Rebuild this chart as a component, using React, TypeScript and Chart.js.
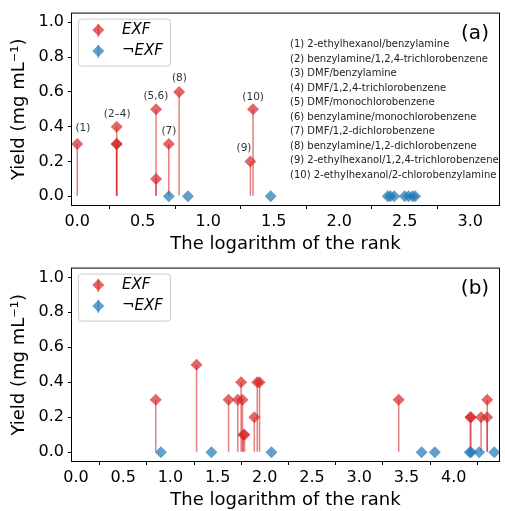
import React, { useEffect, useRef } from "react";
import { Chart, registerables } from "chart.js";

Chart.register(...registerables);

const FONT = "'DejaVu Sans', 'Liberation Sans', sans-serif";

// ---------- shared ----------
const yTicks = [0, 0.2, 0.4, 0.6, 0.8, 1.0];
const seriesNames = ["EXF", "¬EXF"];
const xTitle = "The logarithm of the rank";
const yTitle = "Yield (mg mL⁻¹)";

// ---------- panel (a) ----------
const aExfX = [0.0, 0.301, 0.301, 0.301, 0.602, 0.602, 0.699, 0.778, 1.322, 1.342];
const aExfY = [0.3, 0.4, 0.3, 0.3, 0.5, 0.1, 0.3, 0.6, 0.2, 0.5];
const aNotX = [0.699, 0.845, 1.477, 2.37, 2.39, 2.42, 2.5, 2.53, 2.56, 2.58];
const aNotY = [0, 0, 0, 0, 0, 0, 0, 0, 0, 0];
const aXTicks = [0, 0.5, 1.0, 1.5, 2.0, 2.5, 3.0];
const aPointLabels = ["(1)", "(2–4)", "(5,6)", "(7)", "(8)", "(9)", "(10)"];
const aPointLabelX = [0.043, 0.305, 0.6, 0.7, 0.78, 1.273, 1.343];
const aPointLabelY = [0.39, 0.473, 0.573, 0.373, 0.681, 0.274, 0.568];
const aNames = [
  "(1) 2-ethylhexanol/benzylamine",
  "(2) benzylamine/1,2,4-trichlorobenzene",
  "(3) DMF/benzylamine",
  "(4) DMF/1,2,4-trichlorobenzene",
  "(5) DMF/monochlorobenzene",
  "(6) benzylamine/monochlorobenzene",
  "(7) DMF/1,2-dichlorobenzene",
  "(8) benzylamine/1,2-dichlorobenzene",
  "(9) 2-ethylhexanol/1,2,4-trichlorobenzene",
  "(10) 2-ethylhexanol/2-chlorobenzylamine",
];

// ---------- panel (b) ----------
const bExfX = [0.845, 1.277, 1.616, 1.714, 1.749, 1.763, 1.772, 1.785, 1.889, 1.92, 1.944, 3.418, 4.176, 4.182, 4.29, 4.355, 4.355];
const bExfY = [0.3, 0.5, 0.3, 0.3, 0.4, 0.3, 0.1, 0.1, 0.2, 0.4, 0.4, 0.3, 0.2, 0.2, 0.2, 0.2, 0.3];
const bNotX = [0.899, 1.434, 2.07, 3.66, 3.8, 4.17, 4.185, 4.27, 4.43];
const bNotY = [0, 0, 0, 0, 0, 0, 0, 0, 0];
const bXTicks = [0, 0.5, 1.0, 1.5, 2.0, 2.5, 3.0, 3.5, 4.0];

const RED_M = "rgba(214,39,40,0.7)";
const BLUE_M = "rgba(31,119,180,0.7)";
const RED_S = "rgba(214,39,40,0.6)";

type PanelDef = {
  letter: string;
  exfX: number[];
  exfY: number[];
  notX: number[];
  notY: number[];
  xTicks: number[];
  xMin: number;
  xMax: number;
  labels?: string[];
  labelX?: number[];
  labelY?: number[];
  names?: string[];
};

const panels: PanelDef[] = [
  {
    letter: "(a)",
    exfX: aExfX, exfY: aExfY, notX: aNotX, notY: aNotY,
    xTicks: aXTicks, xMin: -0.04, xMax: 3.22,
    labels: aPointLabels, labelX: aPointLabelX, labelY: aPointLabelY,
    names: aNames,
  },
  {
    letter: "(b)",
    exfX: bExfX, exfY: bExfY, notX: bNotX, notY: bNotY,
    xTicks: bXTicks, xMin: -0.042, xMax: 4.48,
  },
];

function diamond(ctx: CanvasRenderingContext2D, x: number, y: number, r: number) {
  ctx.beginPath();
  ctx.moveTo(x - r, y);
  ctx.lineTo(x, y - r);
  ctx.lineTo(x + r, y);
  ctx.lineTo(x, y + r);
  ctx.closePath();
  ctx.fill();
}

function makeDecor(p: PanelDef) {
  return {
    id: "decor",
    afterDraw(chart: any) {
      const ctx: CanvasRenderingContext2D = chart.ctx;
      const ca = chart.chartArea;
      const xs = chart.scales.x;
      const ys = chart.scales.y;
      ctx.save();

      // point labels
      if (p.labels && p.labelX && p.labelY) {
        ctx.font = `10.5px ${FONT}`;
        ctx.fillStyle = "#333";
        ctx.textAlign = "center";
        ctx.textBaseline = "middle";
        p.labels.forEach((t, i) => {
          ctx.fillText(t, xs.getPixelForValue(p.labelX![i]), ys.getPixelForValue(p.labelY![i]));
        });
      }

      // names list
      if (p.names) {
        ctx.font = `10px ${FONT}`;
        ctx.fillStyle = "#222";
        ctx.textAlign = "left";
        ctx.textBaseline = "middle";
        p.names.forEach((t, i) => {
          ctx.fillText(t, ca.left + 218, ca.top + 31.3 + i * 14.5);
        });
      }

      // panel letter
      ctx.font = `20px ${FONT}`;
      ctx.fillStyle = "#000";
      ctx.textAlign = "center";
      ctx.textBaseline = "middle";
      ctx.fillText(p.letter, ca.right - 24, ca.top + 20.5);

      // legend
      const bx = ca.left + 6.5, by = ca.top + 5.5, bw = 92, bh = 47, r = 3;
      ctx.beginPath();
      ctx.moveTo(bx + r, by);
      ctx.lineTo(bx + bw - r, by);
      ctx.arcTo(bx + bw, by, bx + bw, by + r, r);
      ctx.lineTo(bx + bw, by + bh - r);
      ctx.arcTo(bx + bw, by + bh, bx + bw - r, by + bh, r);
      ctx.lineTo(bx + r, by + bh);
      ctx.arcTo(bx, by + bh, bx, by + bh - r, r);
      ctx.lineTo(bx, by + r);
      ctx.arcTo(bx, by, bx + r, by, r);
      ctx.closePath();
      ctx.fillStyle = "rgba(255,255,255,0.8)";
      ctx.fill();
      ctx.strokeStyle = "#cccccc";
      ctx.lineWidth = 1;
      ctx.stroke();

      const cols = [[RED_M, RED_S], [BLUE_M, "rgba(31,119,180,0.6)"]];
      seriesNames.forEach((name, i) => {
        const mx = ca.left + 26.3;
        const my = ca.top + 16.3 + i * 21;
        ctx.strokeStyle = cols[i][1];
        ctx.lineWidth = 1.5;
        ctx.beginPath();
        ctx.moveTo(mx, my - 6);
        ctx.lineTo(mx, my + 7);
        ctx.stroke();
        ctx.fillStyle = cols[i][0];
        diamond(ctx, mx, my, 6);
        ctx.font = `italic 15px ${FONT}`;
        ctx.fillStyle = "#000";
        ctx.textAlign = "left";
        ctx.textBaseline = "middle";
        ctx.fillText(name, ca.left + 50, my);
      });

      // frame
      ctx.strokeStyle = "#000";
      ctx.lineWidth = 1;
      ctx.strokeRect(ca.left - 0.5, ca.top - 0.5, ca.right - ca.left + 1, ca.bottom - ca.top + 1);
      ctx.restore();
    },
  };
}

function buildConfig(p: PanelDef): any {
  const exfPts = p.exfX.map((x, i) => ({ x, y: p.exfY[i] }));
  const notPts = p.notX.map((x, i) => ({ x, y: p.notY[i] }));
  const tickFont = { family: FONT, size: 16 };
  const titleFont = { family: FONT, size: 18 };
  return {
    type: "scatter",
    data: {
      datasets: [
        {
          type: "bar",
          data: exfPts,
          backgroundColor: RED_S,
          borderWidth: 0,
          barThickness: 1.5,
          inflateAmount: 0,
          grouped: false,
          order: 3,
        },
        {
          type: "scatter",
          data: exfPts,
          pointStyle: "rectRot",
          pointRadius: 6,
          pointBorderWidth: 0,
          backgroundColor: RED_M,
          borderColor: RED_M,
          order: 2,
        },
        {
          type: "scatter",
          data: notPts,
          pointStyle: "rectRot",
          pointRadius: 6,
          pointBorderWidth: 0,
          backgroundColor: BLUE_M,
          borderColor: BLUE_M,
          order: 1,
        },
      ],
    },
    options: {
      responsive: false,
      animation: false,
      devicePixelRatio: 1,
      events: [],
      layout: { padding: { top: 12, right: 2, left: 0, bottom: 0 } },
      plugins: { legend: { display: false }, tooltip: { enabled: false } },
      scales: {
        x: {
          type: "linear",
          min: p.xMin,
          max: p.xMax,
          offset: false,
          afterBuildTicks: (s: any) => {
            s.ticks = p.xTicks.map((v) => ({ value: v }));
          },
          afterFit: (s: any) => {
            s.height = 50;
          },
          ticks: {
            callback: (v: any) => Number(v).toFixed(1),
            font: tickFont,
            color: "#000",
            padding: 3,
            maxRotation: 0,
            autoSkip: false,
          },
          grid: { display: true, drawOnChartArea: false, drawTicks: true, tickLength: 4, color: "#000", lineWidth: 1 },
          border: { display: false },
          title: { display: true, text: xTitle, font: titleFont, color: "#000", padding: { top: 0, bottom: 0 } },
        },
        y: {
          type: "linear",
          min: -0.05,
          max: 1.05,
          afterBuildTicks: (s: any) => {
            s.ticks = yTicks.map((v) => ({ value: v }));
          },
          afterFit: (s: any) => {
            s.width = 72;
          },
          ticks: {
            callback: (v: any) => Number(v).toFixed(1),
            font: tickFont,
            color: "#000",
            padding: 4,
            autoSkip: false,
          },
          grid: { display: true, drawOnChartArea: false, drawTicks: true, tickLength: 4, color: "#000", lineWidth: 1 },
          border: { display: false },
          title: { display: true, text: yTitle, font: titleFont, color: "#000", padding: { top: 9, bottom: 0 } },
        },
      },
    },
    plugins: [makeDecor(p)],
  };
}

function Panel({ p, height }: { p: PanelDef; height: number }) {
  const ref = useRef<HTMLCanvasElement>(null);
  useEffect(() => {
    const chart = new Chart(ref.current as HTMLCanvasElement, buildConfig(p));
    return () => chart.destroy();
  }, [p]);
  return (
    <canvas
      ref={ref}
      width={505}
      height={height}
      style={{ display: "block", width: 505, height }}
    />
  );
}

export default function App() {
  return (
    <div style={{ position: "absolute", left: 0, top: 0, width: 505, height: 511, background: "#fff" }}>
      <Panel p={panels[0]} height={255} />
      <Panel p={panels[1]} height={256} />
    </div>
  );
}
